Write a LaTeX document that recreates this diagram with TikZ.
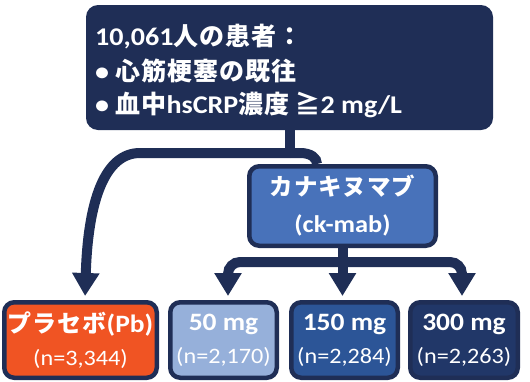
\documentclass[tikz,border=0pt]{standalone}
\usepackage{fontspec}
\setmainfont{Carlito}[FakeStretch=1.1]
\newfontfamily\cjk{Noto Sans CJK JP}[LetterSpace=4]
\newcommand\jtop[1]{{\cjk\fontsize{25}{25}\selectfont #1}}
\newcommand\jbox[1]{{\cjk\fontsize{23.5}{25}\selectfont #1}}
\newcommand\nline[1]{{\mdseries\fontsize{22}{33}\selectfont #1}}
\usetikzlibrary{arrows.meta}
\pgfdeclarelayer{bg}
\pgfsetlayers{bg,main}
\definecolor{navy}{HTML}{1F2E56}
\definecolor{ckblue}{HTML}{4872BA}
\definecolor{pborange}{HTML}{F05423}
\definecolor{lightb}{HTML}{96B0DA}
\definecolor{midb}{HTML}{2C5597}
\definecolor{darkb}{HTML}{213768}
\begin{document}
\begin{tikzpicture}[x=1pt,y=-1pt,
  conn/.style={draw=navy, line width=10pt},
  arr/.style={-{Triangle[length=23pt,width=26pt]}, shorten >=4pt},
  box/.style={rounded corners=10pt, draw=navy, line width=4.5pt, text=white, align=center, inner sep=0pt},
  topline/.style={anchor=base west, text=white, inner sep=0pt, font=\bfseries\fontsize{25.5}{25}\selectfont},
  boxfont/.style={font=\bfseries\fontsize{25}{33}\selectfont}]
\useasboundingbox (0,0) rectangle (530,381);

% top box
\node[fill=navy, rounded corners=12pt, minimum width=407pt, minimum height=125pt, inner sep=0pt] (top) at (289.5,67.5) {};
\node[topline] (l1) at (95,45) {10,061\jtop{人の患者：}};
\node[topline] (l2) at (95,80) {• \jtop{心筋梗塞の既往}};
\node[topline] (l3) at (95,113) {• \jtop{血中}hsCRP\jtop{濃度} \jtop{≧}2 mg/L};

% ck-mab box
\node[box, fill=ckblue, minimum width=186.5pt, minimum height=79.5pt,
  font=\bfseries\fontsize{24}{37}\selectfont] (ck) at (342.5,206)
  {\jbox{カナキヌマブ}\\(ck-mab)};

% bottom boxes
\node[box, boxfont, fill=pborange, minimum width=152.5pt, minimum height=75.5pt] (placebo) at (80.5,340)
  {{\cjk\fontsize{24}{33}\selectfont プラセボ}(Pb)\\\nline{(n=3,344)}};
\node[box, boxfont, fill=lightb, minimum width=106.5pt, minimum height=75.5pt] (m50) at (223.5,340)
  {50 mg\\\nline{(n=2,170)}};
\node[box, boxfont, fill=midb, minimum width=106.5pt, minimum height=75.5pt] (m150) at (344.5,340)
  {150 mg\\\nline{(n=2,284)}};
\node[box, boxfont, fill=darkb, minimum width=107.5pt, minimum height=75.5pt] (m300) at (464,340)
  {300 mg\\\nline{(n=2,263)}};

% connectors
\coordinate (split) at (290,153);
\coordinate (ckin) at (317,0);
\coordinate (aP) at (85,0);
\coordinate (a50) at (228,0);
\coordinate (a300) at (462,0);
\path (ck.south) ++(0,14) coordinate (split2);
\begin{pgfonlayer}{bg}
\draw[conn] (top.south -| split) -- (split);
\draw[conn] (split) -- (300,153) .. controls (311,153) and (317,158) .. (ckin |- ck.north);
\draw[conn, arr] (split) -- (140,153) .. controls (105,153) and (88,200) .. (aP |- placebo.north);
\draw[conn, arr] (ck.south) -- (ck.south |- m150.north);
\draw[conn, arr, rounded corners=12pt] (split2) -| (a50 |- m50.north);
\draw[conn, arr, rounded corners=12pt] (split2) -| (a300 |- m300.north);
\end{pgfonlayer}
\end{tikzpicture}
\end{document}
